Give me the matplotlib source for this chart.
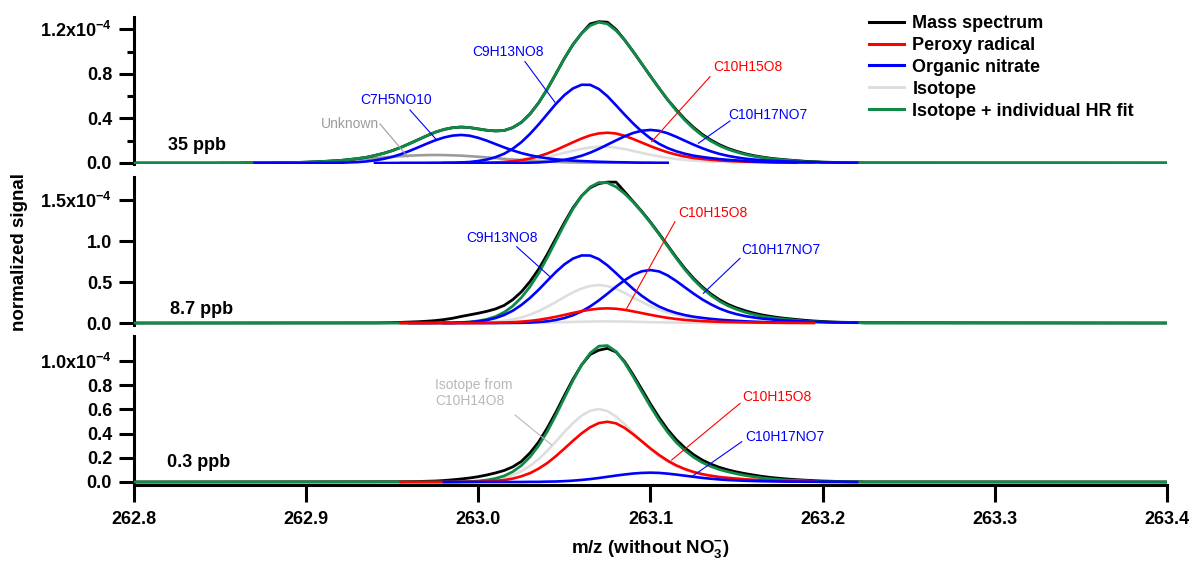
import numpy as np
import matplotlib
matplotlib.use('Agg')
import matplotlib.pyplot as plt
from matplotlib.lines import Line2D

plt.rcParams['font.family'] = ['Liberation Sans', 'DejaVu Sans']
plt.rcParams['font.weight'] = 'bold'
plt.rcParams['mathtext.fontset'] = 'custom'
plt.rcParams['mathtext.rm'] = 'Liberation Sans:bold'
plt.rcParams['mathtext.bf'] = 'Liberation Sans:bold'
plt.rcParams['mathtext.it'] = 'Liberation Sans:bold'
plt.rcParams['mathtext.default'] = 'bf'

# ---------------- data (signal in units of 1e-4) ----------------
STEP = 0.005
XMIN, XMAX = 262.8, 263.4
x_ticks = [262.8, 262.9, 263.0, 263.1, 263.2, 263.3, 263.4]
x_tick_labels = ['262.8', '262.9', '263.0', '263.1', '263.2', '263.3', '263.4']

# ---- 35 ppb ----
spec_35_start = 262.850
green_35 = [0, 0, 0, .001, .001, .001, .002, .003, .004, .005, .007, .010, .014, .018, .023, .031,
            .040, .051, .068, .087, .111, .140, .174, .209, .244, .277, .301, .317, .323, .318, .306,
            .294, .288, .292, .318, .365, .440, .540, .662, .800, .940, 1.065, 1.165, 1.235, 1.265,
            1.250, 1.190, 1.105, 1.000, .890, .780, .672, .568, .470, .384, .310, .248, .198, .156,
            .123, .098, .077, .061, .049, .038, .031, .024, .019, .011, .010, .005, .004, .003, .002,
            .002, 0]
black_35 = [0, 0, 0, .001, .001, .001, .002, .003, .004, .005, .007, .010, .014, .018, .023, .031,
            .040, .051, .068, .087, .111, .140, .174, .209, .244, .277, .301, .317, .323, .318, .306,
            .294, .288, .292, .318, .365, .440, .540, .662, .800, .940, 1.065, 1.165, 1.250, 1.270,
            1.265, 1.200, 1.105, 1.000, .890, .780, .672, .568, .478, .393, .320, .258, .207, .165,
            .131, .105, .083, .066, .053, .042, .034, .027, .021, .015, .012, .008, .006, .004, .003,
            .002, .001]
unknown_35_start = 262.850
unknown_35 = [0, 0, 0, .001, .001, .001, .002, .003, .004, .005, .007, .010, .013, .017, .021, .026,
              .032, .037, .044, .050, .056, .061, .066, .069, .071, .072, .071, .069, .066, .061,
              .056, .050, .044, .037, .032, .026, .021, .017, .013, .010, .007, .005, .004, .003,
              .002, .001, .001, .001, 0, 0]
c7h5no10_35_start = 262.870
c7h5no10_35 = [0, 0, 0, 0, 0, 0, 0, 0, .001, .001, .002, .005, .008, .014, .024, .037, .055, .079,
               .108, .140, .173, .204, .229, .246, .252, .245, .226, .200, .170, .140, .113, .089,
               .070, .054, .042, .033, .026, .021, .017, .014, .011, .009, .007, .006, .004, .003,
               .003, .002, .002]
c9h13no8_35_start = 262.940
c9h13no8_35 = [0, 0, 0, 0, 0, 0, 0, .001, .001, .002, .005, .009, .018, .031, .052, .083, .128, .187,
               .261, .346, .438, .530, .610, .670, .703, .702, .665, .600, .518, .434, .354, .282,
               .221, .172, .134, .105, .083, .066, .054, .044, .035, .028, .023, .018, .013, .011,
               .008, .006, .005, .004]
iso_35_start = 262.950
iso_35 = [0, 0, 0, 0, 0, 0, 0, 0, 0, 0, .001, .002, .004, .006, .011, .017, .027, .039, .054, .072,
          .091, .110, .127, .139, .146, .146, .138, .125, .108, .090, .074, .059, .046, .036, .028,
          .022, .017, .014, .011, .009, .007, .006, .005, .004, .003, .002, .002, .001, .001, .001]
c10h15o8_35_start = 262.955
c10h15o8_35 = [0, 0, 0, 0, 0, 0, 0, 0, .001, .001, .003, .005, .009, .016, .026, .040, .060, .085,
               .116, .151, .186, .220, .248, .266, .272, .265, .244, .215, .183, .151, .122, .096,
               .075, .058, .045, .036, .029, .023, .018, .015, .012, .010, .008, .006, .005, .004,
               .003, .002, .002]
c10h17no7_35_start = 262.980
c10h17no7_35 = [0, 0, 0, 0, 0, 0, 0, 0, .001, .001, .003, .005, .010, .017, .028, .044, .065, .093,
                .127, .165, .203, .240, .270, .290, .297, .289, .267, .235, .200, .165, .133, .105,
                .082, .064, .050, .039, .031, .025, .020, .017, .013, .011, .008, .007, .005, .004,
                .003, .002, .002]

# ---- 8.7 ppb ----
spec_87_start = 262.940
green_87 = [0, 0, 0, 0, 0, 0, 0, .001, .002, .002, .007, .013, .026, .046, .079, .131, .207, .310,
            .443, .605, .795, .999, 1.203, 1.392, 1.548, 1.659, 1.713, 1.710, 1.660, 1.577, 1.473,
            1.353, 1.223, 1.083, .935, .789, .651, .530, .427, .339, .267, .210, .167, .132, .104,
            .082, .066, .053, .042, .033, .022, .015, .011, .008, .006, .005, .004, 0]
black_87 = [.002, .003, .005, .008, .012, .016, .022, .030, .042, .058, .080, .100, .120, .143, .172,
            .215, .285, .380, .505, .655, .835, 1.030, 1.225, 1.405, 1.550, 1.650, 1.700, 1.718,
            1.718, 1.600, 1.480, 1.360, 1.230, 1.090, .945, .800, .665, .545, .443, .356, .285,
            .228, .185, .150, .121, .098, .080, .065, .053, .043, .033, .025, .019, .014, .010,
            .008, .006, .004]
c9h13no8_87_start = 262.960
c9h13no8_87 = [0, 0, 0, .001, .002, .002, .006, .011, .021, .036, .061, .098, .150, .220,
               .306, .405, .514, .621, .715, .786, .824, .823, .779, .703, .608, .509, .415, .331,
               .259, .201, .157, .123, .097, .077, .063, .051, .041, .033, .027, .021, .016, .012,
               .009, .007, .006, .004]
c10h17no7_87_start = 262.980
c10h17no7_87 = [0, 0, 0, 0, 0, 0, 0, .001, .002, .003, .006, .012, .021, .037, .061, .095, .142, .203,
                .276, .358, .443, .522, .588, .631, .646, .629, .580, .512, .435, .359, .289, .229,
                .178, .138, .108, .085, .068, .054, .044, .036, .029, .023, .018, .014, .011, .008,
                .006, .005, .004]
c10h15o8_87_start = 262.955
c10h15o8_87 = [0, 0, 0, 0, 0, 0, 0, 0, 0, .001, .002, .003, .006, .010, .017, .026, .039, .056, .076,
               .099, .123, .145, .163, .175, .179, .174, .161, .142, .121, .100, .080, .063, .049,
               .038, .030, .023, .019, .015, .012, .010, .008, .006, .005, .004, .003, .002, .002,
               .001, .001]
iso_87_start = 262.950
iso_87 = [0, 0, 0, 0, 0, 0, 0, 0, .001, .002, .004, .008, .015, .026, .044, .068, .102, .145, .198,
          .256, .317, .374, .421, .452, .463, .450, .416, .367, .312, .257, .207, .164, .128, .099,
          .077, .061, .049, .038, .031, .026, .021, .017, .013, .010, .008, .006, .005, .004, .003]
iso_minor_87_start = 262.955
iso_minor_87 = [0, 0, 0, 0, 0, 0, 0, 0, 0, 0, 0, 0, 0, .001, .002, .003, .004, .006, .009, .011, .014,
                .016, .018, .020, .020, .019, .018, .016, .013, .011, .009, .007, .006, .004, .003,
                .003, .002, .002, .001, .001, .001, .001, .001, .001, .001, 0, 0, 0, 0]

# ---- 0.3 ppb ----
spec_03_start = 262.955
green_03 = [0, 0, 0, 0, 0, 0, .001, .002, .004, .008, .016, .029, .050, .085, .136, .207, .300, .416,
            .551, .696, .839, .968, 1.066, 1.123, 1.128, 1.079, .987, .870, .746, .624, .511, .411,
            .327, .260, .205, .162, .129, .103, .084, .068, .054, .043, .033, .026, .020, .015, .013,
            .010, .005, .001, .001, .001, 0, 0, 0]
black_03 = [.002, .003, .004, .006, .008, .012, .018, .025, .033, .044, .058, .075, .095, .125, .170,
            .240, .330, .445, .575, .715, .850, .968, 1.055, 1.090, 1.105, 1.075, .995, .885, .765,
            .645, .533, .433, .350, .282, .226, .182, .148, .121, .100, .083, .069, .057, .046, .037,
            .030, .024, .019, .015, .011, .008, .006, .004, .003, .002, .001]
c10h15o8_03_start = 262.955
c10h15o8_03 = [0, 0, 0, 0, 0, 0, 0, .001, .001, .002, .005, .009, .016, .028, .047, .073, .110, .156,
               .213, .276, .341, .402, .453, .487, .498, .485, .447, .394, .336, .277, .223, .176,
               .137, .107, .083, .065, .052, .041, .034, .028, .022, .018, .014, .011, .008, .006,
               .005, .004, .003]
iso_03_start = 262.955
iso_03 = [0, 0, 0, 0, 0, 0, .001, .001, .003, .006, .011, .020, .034, .057, .089, .133, .189, .257,
          .334, .413, .487, .549, .589, .603, .587, .541, .478, .406, .335, .270, .213, .166, .129,
          .101, .079, .063, .050, .041, .034, .027, .022, .017, .013, .010, .008, .006, .005, .004]
c10h17no7_03_start = 262.980
c10h17no7_03 = [0, 0, 0, 0, 0, 0, 0, 0, 0, 0, .001, .001, .003, .004, .007, .011, .017, .024, .033,
                .043, .053, .062, .070, .075, .077, .075, .069, .061, .052, .043, .034, .027, .021,
                .016, .013, .010, .008, .006, .005, .004, .003, .003, .002, .002, .001, .001, .001,
                0, 0]

# ---------------- styling ----------------
C_BLACK = '#000000'
C_RED = '#ff0000'
C_BLUE = '#0000ff'
C_GREEN = '#108a46'
C_ISO = '#dedede'
C_UNK = '#9c9c9c'
C_ISO_TXT = '#b8b8b8'
LW = 1.9
TXT = 10
TICK_FS = 13


def xs(start, vals):
    return np.round(start + STEP * np.arange(len(vals)), 4)


def spectrum(ax, start, vals, color, lw, z):
    x = np.concatenate([[XMIN], xs(start, vals), [XMAX]])
    y = np.concatenate([[0.0], np.asarray(vals, float), [0.0]])
    ax.plot(x, y, color=color, lw=lw, zorder=z, solid_joinstyle='round')


def comp(ax, start, vals, color, z):
    ax.plot(xs(start, vals), vals, color=color, lw=LW, zorder=z, solid_joinstyle='round')


def label(ax, text, color, txy, p0, p1, ha='center', va='center'):
    ax.plot([p0[0], p1[0]], [p0[1], p1[1]], color=color, lw=0.8, zorder=8)
    ax.text(txy[0], txy[1], text, color=color, fontsize=TXT, fontweight='normal',
            ha=ha, va=va, zorder=9)


fig = plt.figure(figsize=(11.93, 5.62), dpi=100)
ax1 = fig.add_axes([0.1123, 0.7082, 0.8659, 0.2616])
ax2 = fig.add_axes([0.1123, 0.4217, 0.8659, 0.2633])
ax3 = fig.add_axes([0.1123, 0.1370, 0.8659, 0.2651])

# panel 1: 35 ppb
comp(ax1, iso_35_start, iso_35, C_ISO, 2)
comp(ax1, unknown_35_start, unknown_35, C_UNK, 2)
spectrum(ax1, spec_35_start, black_35, C_BLACK, 2.0, 3)
spectrum(ax1, spec_35_start, green_35, C_GREEN, 2.0, 4)
comp(ax1, c10h15o8_35_start, c10h15o8_35, C_RED, 6)
comp(ax1, c9h13no8_35_start, c9h13no8_35, C_BLUE, 7)
comp(ax1, c10h17no7_35_start, c10h17no7_35, C_BLUE, 7)
comp(ax1, c7h5no10_35_start, c7h5no10_35, C_BLUE, 7)
label(ax1, 'Unknown', C_UNK, (262.9425, 0.351), (262.9429, 0.351), (262.9591, 0.054), ha='right')
label(ax1, 'C7H5NO10', C_BLUE, (262.9522, 0.566), (262.9603, 0.476), (262.9758, 0.207))
label(ax1, 'C9H13NO8', C_BLUE, (263.0174, 1.000), (263.0271, 0.911), (263.0445, 0.546))
label(ax1, 'C10H15O8', C_RED, (263.1563, 0.866), (263.1346, 0.776), (263.1007, 0.192))
label(ax1, 'C10H17NO7', C_BLUE, (263.1680, 0.431), (263.1462, 0.378), (263.1278, 0.177))
ax1.text(262.8366, 0.153, '35 ppb', fontsize=13, fontweight='bold', ha='center', va='center')

# panel 2: 8.7 ppb
comp(ax2, iso_87_start, iso_87, C_ISO, 2)
comp(ax2, iso_minor_87_start, iso_minor_87, C_ISO, 2)
spectrum(ax2, spec_87_start, black_87, C_BLACK, 2.0, 3)
spectrum(ax2, spec_87_start, green_87, C_GREEN, 2.0, 4)
comp(ax2, c9h13no8_87_start, c9h13no8_87, C_BLUE, 6)
comp(ax2, c10h17no7_87_start, c10h17no7_87, C_BLUE, 6)
comp(ax2, c10h15o8_87_start, c10h15o8_87, C_RED, 7)
label(ax2, 'C9H13NO8', C_BLUE, (263.0140, 1.033), (263.0223, 0.930), (263.0416, 0.565))
label(ax2, 'C10H15O8', C_RED, (263.1360, 1.338), (263.1142, 1.235), (263.0862, 0.179))
label(ax2, 'C10H17NO7', C_BLUE, (263.1757, 0.890), (263.1520, 0.789), (263.1307, 0.362))
ax2.text(262.8393, 0.167, '8.7 ppb', fontsize=13, fontweight='bold', ha='center', va='center')

# panel 3: 0.3 ppb
comp(ax3, iso_03_start, iso_03, C_ISO, 2)
spectrum(ax3, spec_03_start, black_03, C_BLACK, 2.0, 3)
spectrum(ax3, spec_03_start, green_03, C_GREEN, 2.0, 4)
comp(ax3, c10h15o8_03_start, c10h15o8_03, C_RED, 6)
comp(ax3, c10h17no7_03_start, c10h17no7_03, C_BLUE, 7)
label(ax3, 'Isotope from\nC10H14O8', C_ISO_TXT, (262.9748, 0.735), (263.0213, 0.554),
      (263.0426, 0.306), ha='left')
label(ax3, 'C10H15O8', C_RED, (263.1733, 0.705), (263.1520, 0.650), (263.1123, 0.182))
label(ax3, 'C10H17NO7', C_BLUE, (263.1780, 0.374), (263.1530, 0.333), (263.1240, 0.044))
ax3.text(262.8378, 0.163, '0.3 ppb', fontsize=13, fontweight='bold', ha='center', va='center')

# axes styling
ylims = [(-0.009, 1.312), (-0.024, 1.780), (-0.025, 1.207)]
yt = [[0.0, 0.4, 0.8, 1.2], [0.0, 0.5, 1.0, 1.5], [0.0, 0.2, 0.4, 0.6, 0.8, 1.0]]
ytl = [['0.0', '0.4', '0.8', '1.2x10$^{-4}$'],
       ['0.0', '0.5', '1.0', '1.5x10$^{-4}$'],
       ['0.0', '0.2', '0.4', '0.6', '0.8', '1.0x10$^{-4}$']]
for ax, yl, t, tl in zip([ax1, ax2, ax3], ylims, yt, ytl):
    ax.set_xlim(XMIN, XMAX)
    ax.set_ylim(*yl)
    ax.spines['top'].set_visible(False)
    ax.spines['right'].set_visible(False)
    ax.spines['left'].set_linewidth(2.2)
    ax.spines['bottom'].set_linewidth(2.2)
    ax.set_yticks(t)
    ax.set_yticklabels(tl)
    ax.tick_params(axis='y', direction='out', length=10.8, width=2.2, labelsize=TICK_FS, pad=5)
    ax.patch.set_alpha(0)
ax1.set_yticks([0.2, 0.6, 1.0], minor=True)
ax1.tick_params(axis='y', which='minor', direction='out', length=5.4, width=2.2)
for ax in (ax1, ax2):
    ax.spines['bottom'].set_visible(False)
    ax.set_xticks([])
ax3.set_xticks(x_ticks)
ax3.set_xticklabels(x_tick_labels)
ax3.tick_params(axis='x', direction='out', length=12, width=2.2, labelsize=TICK_FS, pad=7)

fig.text(650.5 / 1193, 1 - 549 / 562, 'm/z (without NO$_{3}^{-}$)', fontsize=13.5,
         fontweight='bold', ha='center', va='center')
fig.text(20 / 1193, 1 - 252 / 562, 'normalized signal', fontsize=13.5, fontweight='bold',
         rotation=90, ha='center', va='center')

handles = [Line2D([], [], color=C_BLACK, lw=2.2), Line2D([], [], color=C_RED, lw=2.2),
           Line2D([], [], color=C_BLUE, lw=2.2), Line2D([], [], color=C_ISO, lw=2.2),
           Line2D([], [], color=C_GREEN, lw=2.2)]
labels = ['Mass spectrum', 'Peroxy radical', 'Organic nitrate', 'Isotope',
          'Isotope + individual HR fit']
fig.legend(handles, labels, loc='upper left', bbox_to_anchor=(869 / 1193, 1 - 15 / 562),
           frameon=False, prop={'weight': 'bold', 'size': 13}, handlelength=1.95,
           handletextpad=0.45, labelspacing=0.27, borderpad=0, borderaxespad=0)

fig.savefig('out.png', dpi=100)
